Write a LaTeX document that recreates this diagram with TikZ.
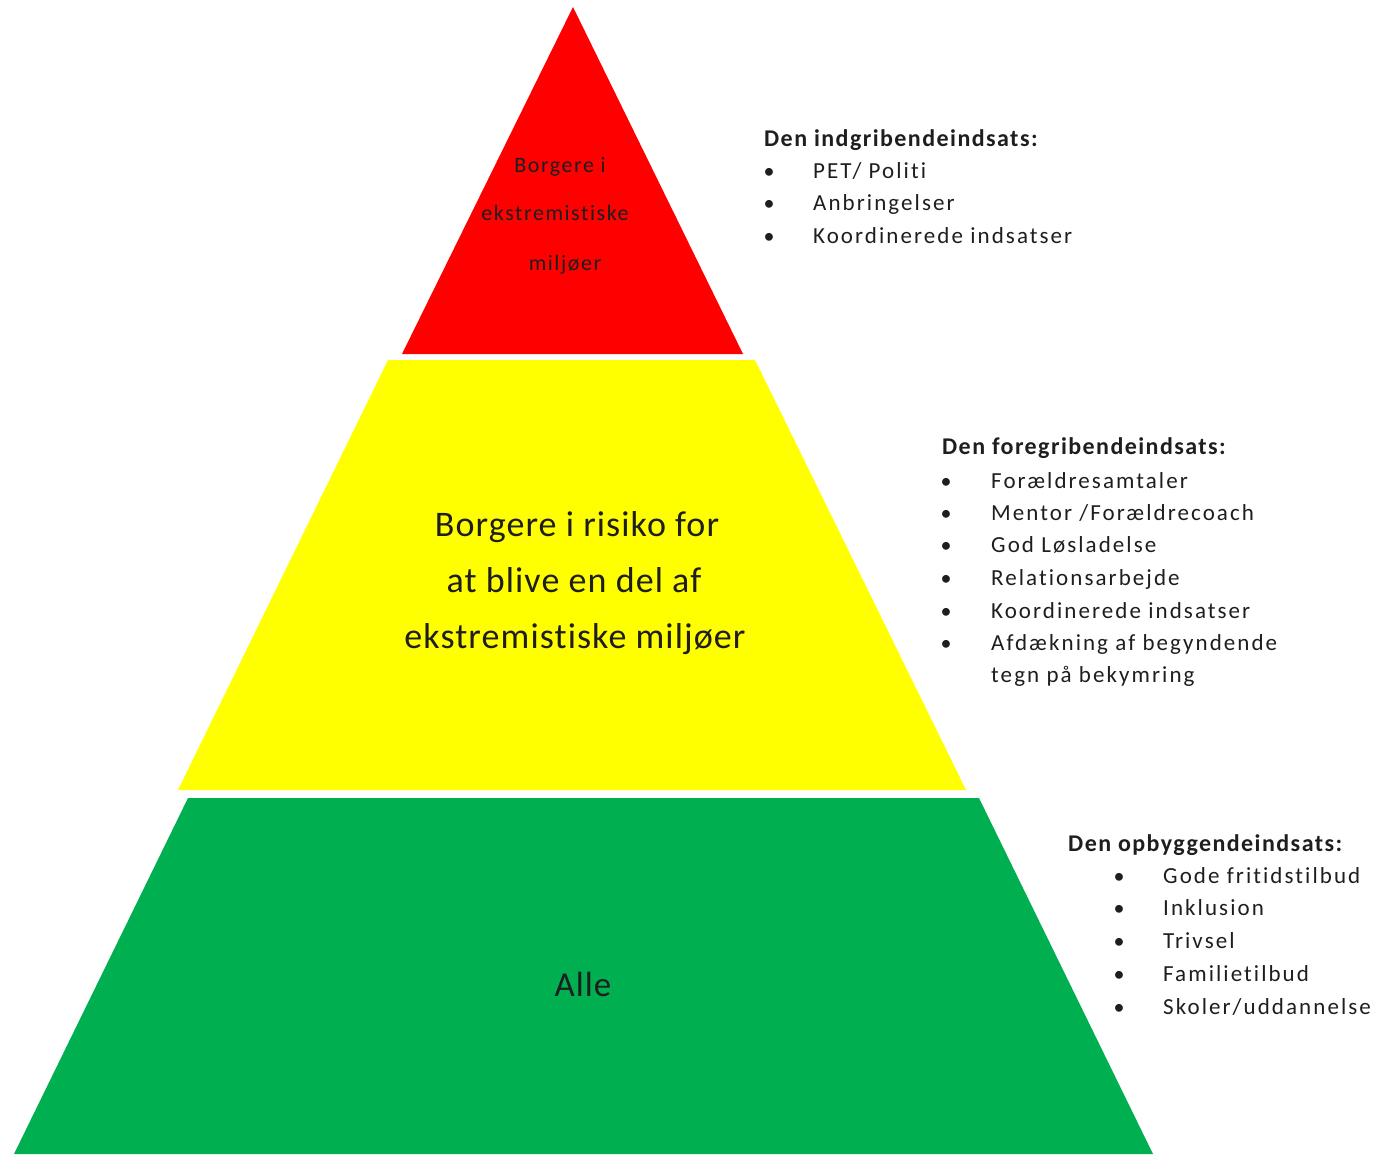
\documentclass[tikz,border=0pt]{standalone}
\usepackage{fontspec}
\setmainfont{Carlito}[Ligatures={NoCommon}]
\newfontfamily\lsfont{Carlito}[LetterSpace=9, Ligatures={NoCommon}]
\newfontfamily\redfont{Carlito}[LetterSpace=7, Ligatures={NoCommon}]
\newfontfamily\bigfont{Carlito}[LetterSpace=3, Ligatures={NoCommon}]
\newfontfamily\hdfont{Carlito}[LetterSpace=6, Ligatures={NoCommon}]
\definecolor{pyrred}{RGB}{255,0,0}
\definecolor{pyryellow}{RGB}{255,255,0}
\definecolor{pyrgreen}{RGB}{0,176,80}
\definecolor{txt}{RGB}{30,30,30}
\tikzset{
  smalltxt/.style={inner sep=0pt, text=txt, font=\redfont\fontsize{22}{26}\selectfont},
  bigtxt/.style={inner sep=0pt, text=txt, font=\bigfont\fontsize{36}{42}\selectfont},
  alletxt/.style={inner sep=0pt, text=txt, font=\bigfont\fontsize{35}{42}\selectfont},
  head/.style={inner sep=0pt, anchor=base west, text=txt, font=\hdfont\bfseries\fontsize{24}{28}\selectfont},
  item/.style={inner sep=0pt, anchor=base west, text=txt, font=\lsfont\fontsize{23}{27}\selectfont},
  bul/.style={inner sep=0pt, anchor=base, text=txt, font=\fontsize{22}{26}\selectfont},
}
\begin{document}
\begin{tikzpicture}[x=1pt,y=-1pt]
\useasboundingbox (0,0) rectangle (1397,1154);
% pyramid levels
\fill[pyrred] (573,7) -- (743,354) -- (402,354) -- cycle;
\fill[pyryellow] (388,360) -- (755,360) -- (966,790) -- (178,790) -- cycle;
\fill[pyrgreen] (188,798) -- (979,798) -- (1153,1154) -- (14,1154) -- cycle;
% red text
\node[smalltxt, anchor=base] (r1) at (560,172) {Borgere i};
\node[smalltxt, anchor=base] (r2) at (555,220) {ekstremistiske};
\node[smalltxt, anchor=base] (r3) at (565,270) {miljøer};
% yellow text
\node[bigtxt, anchor=base] (y1) at (577,536) {Borgere i risiko for};
\node[bigtxt, anchor=base] (y2) at (574,592) {at blive en del af};
\node[bigtxt, anchor=base] (y3) at (575,648) {ekstremistiske miljøer};
% green text
\node[alletxt, anchor=base] (g1) at (583,996) {Alle};
% list 1
\node[head] (h1) at (764,146.5) {Den indgribendeindsats:};
\node[bul] (b11) at (769,178) {•};
\node[item] (i11) at (813,178) {PET/ Politi};
\node[bul] (b12) at (769,210.5) {•};
\node[item] (i12) at (813,210.5) {Anbringelser};
\node[bul] (b13) at (769,243) {•};
\node[item] (i13) at (813,243) {Koordinerede indsatser};
% list 2
\node[head] (h2) at (942,454.5) {Den foregribendeindsats:};
\node[bul] (b21) at (946,488) {•};
\node[item] (i21) at (991,488) {Forældresamtaler};
\node[bul] (b22) at (946,520.3) {•};
\node[item] (i22) at (991,520.3) {Mentor /Forældrecoach};
\node[bul] (b23) at (946,552.7) {•};
\node[item] (i23) at (991,552.7) {God Løsladelse};
\node[bul] (b24) at (946,585) {•};
\node[item] (i24) at (991,585) {Relationsarbejde};
\node[bul] (b25) at (946,618) {•};
\node[item] (i25) at (991,618) {Koordinerede indsatser};
\node[bul] (b26) at (946,650.5) {•};
\node[item] (i26) at (991,650.5) {Afdækning af begyndende};
\node[item] (i27) at (991,682.5) {tegn på bekymring};
% list 3
\node[head] (h3) at (1068,851.5) {Den opbyggendeindsats:};
\node[bul] (b31) at (1119,883) {•};
\node[item] (i31) at (1163,883) {Gode fritidstilbud};
\node[bul] (b32) at (1119,915.7) {•};
\node[item] (i32) at (1163,915.7) {Inklusion};
\node[bul] (b33) at (1119,948.5) {•};
\node[item] (i33) at (1163,948.5) {Trivsel};
\node[bul] (b34) at (1119,981.2) {•};
\node[item] (i34) at (1163,981.2) {Familietilbud};
\node[bul] (b35) at (1119,1014) {•};
\node[item] (i35) at (1163,1014) {Skoler/uddannelse};
\end{tikzpicture}
\end{document}
